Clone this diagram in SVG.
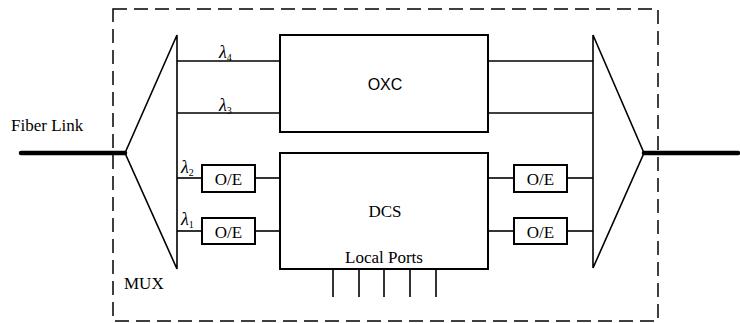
<svg xmlns="http://www.w3.org/2000/svg" width="740" height="323" viewBox="0 0 740 323">
<style>
.ln{stroke:#000;stroke-width:1.6;fill:none}
.bx{stroke:#000;stroke-width:2;fill:#fff}
.fb{stroke:#000;stroke-width:4.5;stroke-linecap:round;fill:none}
.ds{stroke:#000;stroke-width:1.5;fill:none;stroke-dasharray:14,7}
.t{font-family:"Liberation Serif","Times New Roman",serif;font-size:17px;fill:#000}
.s{font-family:"Liberation Sans",Arial,sans-serif;font-size:16px;fill:#000}
.l{font-family:"Liberation Serif","Times New Roman",serif;font-size:18px;font-style:italic;fill:#000}
.sub{font-family:"Liberation Serif","Times New Roman",serif;font-size:10px;fill:#000}
</style>
<rect class="ds" x="113" y="9" width="545" height="312"/>
<g id="connectors">
<line class="fb" x1="21" y1="153" x2="125" y2="153"/>
<line class="fb" x1="644" y1="153" x2="738" y2="153"/>
<line class="ln" x1="177" y1="61" x2="280" y2="61"/>
<line class="ln" x1="177" y1="113" x2="280" y2="113"/>
<line class="ln" x1="488" y1="61" x2="593" y2="61"/>
<line class="ln" x1="488" y1="113" x2="593" y2="113"/>
<line class="ln" x1="177" y1="178" x2="202" y2="178"/>
<line class="ln" x1="255" y1="178" x2="280" y2="178"/>
<line class="ln" x1="177" y1="231" x2="202" y2="231"/>
<line class="ln" x1="255" y1="231" x2="280" y2="231"/>
<line class="ln" x1="488" y1="178" x2="514" y2="178"/>
<line class="ln" x1="567" y1="178" x2="593" y2="178"/>
<line class="ln" x1="488" y1="231" x2="514" y2="231"/>
<line class="ln" x1="567" y1="231" x2="593" y2="231"/>
<line class="ln" x1="333" y1="269" x2="333" y2="297"/>
<line class="ln" x1="359" y1="269" x2="359" y2="297"/>
<line class="ln" x1="384" y1="269" x2="384" y2="297"/>
<line class="ln" x1="410" y1="269" x2="410" y2="297"/>
<line class="ln" x1="436" y1="269" x2="436" y2="297"/>
</g>
<g id="mux-left">
<polygon class="ln" points="125,153 177,35 177,269" stroke-width="1.8"/>
<text class="t" x="124" y="289">MUX</text>
</g>
<g id="mux-right">
<polygon class="ln" points="644,153 593,35 593,268" stroke-width="1.8"/>
</g>
<g id="oxc">
<rect class="bx" x="280" y="35" width="208" height="97"/>
<text class="s" x="385" y="90" text-anchor="middle">OXC</text>
</g>
<g id="dcs">
<rect class="bx" x="280" y="153" width="208" height="116"/>
<text class="t" x="385" y="217" text-anchor="middle">DCS</text>
<text class="t" x="384" y="263" text-anchor="middle">Local Ports</text>
</g>
<g id="oe-l2"><rect class="bx" x="202" y="165" width="53" height="27"/><text class="t" x="228.5" y="184.5" text-anchor="middle">O/E</text></g>
<g id="oe-l1"><rect class="bx" x="202" y="218" width="53" height="26"/><text class="t" x="228.5" y="237.5" text-anchor="middle">O/E</text></g>
<g id="oe-r2"><rect class="bx" x="514" y="165" width="53" height="27"/><text class="t" x="540.5" y="184.5" text-anchor="middle">O/E</text></g>
<g id="oe-r1"><rect class="bx" x="514" y="218" width="53" height="26"/><text class="t" x="540.5" y="237.5" text-anchor="middle">O/E</text></g>
<g id="labels">
<text class="t" x="11" y="131">Fiber Link</text>
<text class="l" x="219" y="58">λ<tspan class="sub" dy="3" font-style="normal">4</tspan></text>
<text class="l" x="219" y="111">λ<tspan class="sub" dy="3" font-style="normal">3</tspan></text>
<text class="l" x="181" y="173">λ<tspan class="sub" dy="3" font-style="normal">2</tspan></text>
<text class="l" x="181" y="225">λ<tspan class="sub" dy="3" font-style="normal">1</tspan></text>
</g>
</svg>
